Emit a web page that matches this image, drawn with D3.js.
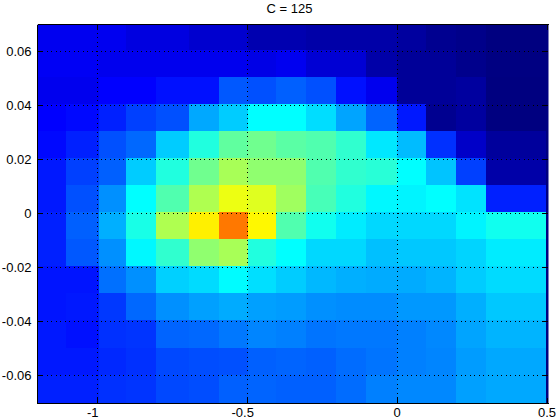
<!DOCTYPE html>
<html><head><meta charset="utf-8">
<script src="https://cdn.jsdelivr.net/npm/d3@7"></script>
<style>html,body{margin:0;padding:0;background:#fff}svg{display:block}
text{font-family:"Liberation Sans",Arial,sans-serif;font-size:13px;fill:#000}</style>
</head><body><svg id="c" width="560" height="420"></svg>
<script>
const titleText = "C = 125";
const xTicks = [-1, -0.5, 0, 0.5];
const yTicks = [-0.06, -0.04, -0.02, 0, 0.02, 0.04, 0.06];
const xDomain = [-1.2, 0.5];
const yDomain = [-0.07, 0.07];
// Cell boundaries in data units
const xEdges = [-1.2,-1.105,-0.995,-0.905,-0.805,-0.695,-0.595,-0.5,-0.405,-0.305,-0.205,-0.105,-0.002,0.095,0.195,0.295,0.395,0.495];
const yEdges = [0.07,0.0606,0.0506,0.0406,0.0306,0.0206,0.0106,0.0006,-0.0094,-0.0194,-0.0294,-0.0394,-0.0498,-0.0598,-0.07];
// Intensity (0 to 1000 on the jet scale), rows from top to bottom
const row01 = [110,110,110,94,94,78,78,47,47,39,39,39,31,16,10,0,0];
const row02 = [115,115,108,108,108,108,108,100,110,83,83,39,24,24,12,2,2];
const row03 = [108,108,125,125,141,141,211,203,219,203,141,108,24,24,31,0,0];
const row04 = [125,133,156,188,203,290,325,375,375,342,286,223,149,16,31,0,0];
const row05 = [133,156,203,227,325,406,469,485,463,453,422,352,309,172,71,28,28];
const row06 = [149,188,219,325,406,485,540,516,516,453,422,414,375,317,188,39,39];
const row07 = [149,203,266,375,453,547,607,594,532,445,406,368,364,375,348,156,156];
const row08 = [156,219,297,399,547,640,757,632,453,391,356,337,337,337,364,391,391];
const row09 = [156,211,266,368,422,516,540,406,375,337,337,313,321,321,333,356,356];
const row10 = [145,145,235,266,329,340,372,344,325,305,297,293,293,301,325,340,340];
const row11 = [145,149,180,227,266,282,293,282,278,266,262,262,274,274,297,321,321];
const row12 = [149,141,172,176,223,227,243,255,250,239,243,243,250,258,286,301,301];
const row13 = [149,149,164,172,196,200,203,219,223,219,231,239,250,255,278,290,290];
const row14 = [156,156,172,176,196,200,219,223,219,219,231,250,258,258,282,290,290];
const rows = [row01,row02,row03,row04,row05,row06,row07,row08,row09,row10,row11,row12,row13,row14];

const margin = {l:37.5, t:24.5, r:547.5, b:402.5};
const x = d3.scaleLinear().domain(xDomain).range([margin.l, margin.r]);
const y = d3.scaleLinear().domain(yDomain).range([margin.b, margin.t]);
const jet = d3.scaleLinear()
  .domain([0,125,375,625,875,1000])
  .range(["#000080","#0000ff","#00ffff","#ffff00","#ff0000","#800000"])
  .clamp(true);

const svg = d3.select("#c");
const w = margin.r - margin.l, h = margin.b - margin.t;
svg.append("rect").attr("x",margin.l).attr("y",margin.t).attr("width",w+1).attr("height",h+1).attr("fill","#000080");
const px = v => Math.round(x(v));
const py = v => Math.round(y(v));
const cells = svg.append("g").attr("shape-rendering","crispEdges");
rows.forEach((row,i)=>{
  cells.selectAll(null).data(row).enter().append("rect")
    .attr("x",(d,j)=>px(xEdges[j]))
    .attr("width",(d,j)=>px(xEdges[j+1])-px(xEdges[j]))
    .attr("y",py(yEdges[i]))
    .attr("height",py(yEdges[i+1])-py(yEdges[i])+(i===rows.length-1?1:0))
    .attr("fill",d=>jet(d));
});
const grid = svg.append("g").attr("stroke","#000").attr("stroke-width",1).attr("shape-rendering","crispEdges").attr("fill","none");
grid.selectAll(null).data(xTicks.slice(0,3)).enter().append("line")
  .attr("x1",d=>x(d)).attr("x2",d=>x(d)).attr("y1",margin.b).attr("y2",margin.t)
  .attr("stroke-dasharray","1 3.5");
grid.selectAll(null).data(yTicks).enter().append("line")
  .attr("x1",margin.l).attr("x2",margin.r).attr("y1",d=>y(d)).attr("y2",d=>y(d))
  .attr("stroke-dasharray","1 3.5");
// ticks
const tl = 5.5;
const ticks = svg.append("g").attr("stroke","#000").attr("shape-rendering","crispEdges");
xTicks.forEach(d=>{
  ticks.append("line").attr("x1",x(d)).attr("x2",x(d)).attr("y1",margin.b+1).attr("y2",margin.b+1-tl);
  ticks.append("line").attr("x1",x(d)).attr("x2",x(d)).attr("y1",margin.t).attr("y2",margin.t+tl);
});
yTicks.forEach(d=>{
  const yy=y(d);
  ticks.append("line").attr("x1",margin.l).attr("x2",margin.l+tl).attr("y1",yy).attr("y2",yy);
  ticks.append("line").attr("x1",margin.r).attr("x2",margin.r-tl).attr("y1",yy).attr("y2",yy);
});
// axes frame: left, top, bottom (right edge is navy sliver)
const frame = svg.append("g").attr("stroke","#000").attr("shape-rendering","crispEdges");
frame.append("line").attr("x1",margin.l).attr("x2",margin.l).attr("y1",margin.t).attr("y2",margin.b+1);
frame.append("line").attr("x1",margin.l).attr("x2",margin.r+1).attr("y1",margin.t).attr("y2",margin.t);
frame.append("line").attr("x1",margin.l).attr("x2",margin.r+1).attr("y1",margin.b+1).attr("y2",margin.b+1);
// labels
svg.append("g").selectAll("text").data(xTicks).enter().append("text")
  .attr("x",d=>x(d)+(d<0?-4.8:-0.5)).attr("y",417).attr("text-anchor","middle").text(d=>String(d));
svg.append("g").selectAll("text").data(yTicks).enter().append("text")
  .attr("x",31.5).attr("y",d=>y(d)+4.5).attr("text-anchor","end").text(d=>String(d));
svg.append("text").attr("x",289.5).attr("y",13).attr("text-anchor","middle").text(titleText);
</script></body></html>
